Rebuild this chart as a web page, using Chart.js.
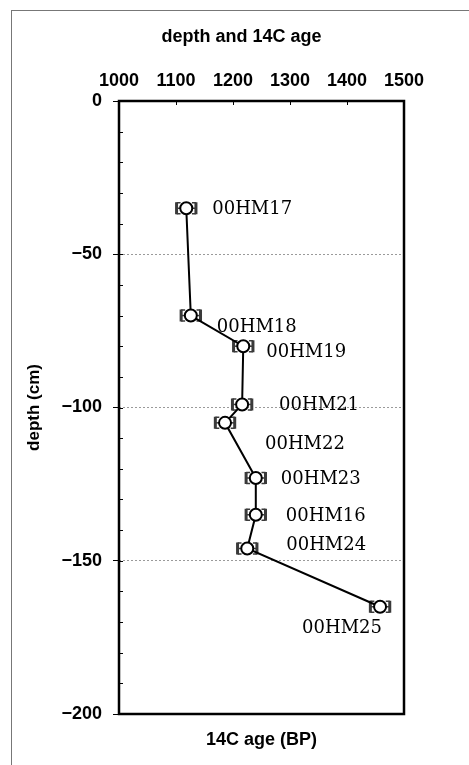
<!DOCTYPE html>
<html>
<head>
<meta charset="utf-8">
<script src="https://cdn.jsdelivr.net/npm/chart.js@4.4.1/dist/chart.umd.min.js"></script>
<style>
    html, body { margin: 0; padding: 0; background: #fff; }
    #wrap { width: 469px; height: 765px; }
</style>
</head>
<body>
<div id="wrap"><canvas id="depthChart" width="469" height="765"></canvas></div>
<script>
// samples, ordered by depth
const sampleNames = ["00HM17", "00HM18", "00HM19", "00HM21", "00HM22", "00HM23", "00HM16", "00HM24", "00HM25"];
const ages = [1118, 1126, 1218, 1216, 1186, 1240, 1240, 1225, 1458];   // 14C age (BP)
const depths = [-35, -70, -80, -99, -105, -123, -135, -146, -165];     // cm
const ageErrors = [17, 17, 17, 17, 17, 17, 17, 17, 17];

const ageTicks = [1000, 1100, 1200, 1300, 1400, 1500];
const depthTicks = [0, -50, -100, -150, -200];

// label placement next to each point (px)
const labelOffsets = [[26, 1], [26, 12], [23, 6], [37, 1], [40, 22], [25, 1], [30, 2], [39, -3], [-78, 22]];

const axisFont = { family: "Liberation Sans", size: 18, weight: "bold" };

const framePlugin = {
    id: "frame",
    beforeDraw(chart) {
        const ctx = chart.ctx;
        ctx.save();
        ctx.fillStyle = "#fff";
        ctx.fillRect(0, 0, chart.width, chart.height);
        ctx.strokeStyle = "#777";
        ctx.lineWidth = 1;
        ctx.strokeRect(11.5, 10.5, 600, 900);
        ctx.restore();
    },
    afterDraw(chart) {
        const { ctx, chartArea } = chart;
        const x = chart.scales.x;
        const y = chart.scales.y;
        ctx.save();
        ctx.strokeStyle = "#000";
        ctx.lineWidth = 1;
        // minor ticks, pointing into the plot
        ctx.beginPath();
        for (let d = 0; d >= -200; d -= 10) {
            const py = Math.round(y.getPixelForValue(d)) + 0.5;
            ctx.moveTo(chartArea.left, py);
            ctx.lineTo(chartArea.left + 4, py);
        }
        ageTicks.forEach(function (a) {
            const px = Math.round(x.getPixelForValue(a)) + 0.5;
            ctx.moveTo(px, chartArea.top);
            ctx.lineTo(px, chartArea.top + 4);
        });
        ctx.stroke();
        ctx.lineWidth = 2.5;
        ctx.strokeRect(chartArea.left, chartArea.top, chartArea.right - chartArea.left, chartArea.bottom - chartArea.top);
        ctx.restore();
    },
};

const errorBarPlugin = {
    id: "errorBars",
    beforeDatasetsDraw(chart) {
        const ctx = chart.ctx;
        const x = chart.scales.x;
        const y = chart.scales.y;
        ctx.save();
        ctx.strokeStyle = "#3a3a3a";
        ages.forEach(function (age, i) {
            const py = y.getPixelForValue(depths[i]);
            const xl = x.getPixelForValue(age - ageErrors[i]);
            const xr = x.getPixelForValue(age + ageErrors[i]);
            ctx.lineWidth = 1.5;
            ctx.beginPath();
            ctx.moveTo(xl, py);
            ctx.lineTo(xr, py);
            ctx.stroke();
            ctx.lineWidth = 3;
            ctx.beginPath();
            ctx.moveTo(xl, py - 6);
            ctx.lineTo(xl, py + 6);
            ctx.moveTo(xr, py - 6);
            ctx.lineTo(xr, py + 6);
            ctx.stroke();
            ctx.lineWidth = 1.5;
            ctx.beginPath();
            ctx.moveTo(xl, py - 5.5);
            ctx.lineTo(xl + 4, py - 5.5);
            ctx.moveTo(xl, py + 5.5);
            ctx.lineTo(xl + 4, py + 5.5);
            ctx.moveTo(xr, py - 5.5);
            ctx.lineTo(xr - 4, py - 5.5);
            ctx.moveTo(xr, py + 5.5);
            ctx.lineTo(xr - 4, py + 5.5);
            ctx.stroke();
        });
        ctx.restore();
    },
};

const sampleLabelPlugin = {
    id: "sampleLabels",
    afterDatasetsDraw(chart) {
        const ctx = chart.ctx;
        const meta = chart.getDatasetMeta(0);
        ctx.save();
        ctx.font = "18px 'DejaVu Serif'";
        ctx.fillStyle = "#000";
        ctx.textAlign = "left";
        ctx.textBaseline = "middle";
        meta.data.forEach(function (pt, i) {
            ctx.fillText(sampleNames[i], pt.x + labelOffsets[i][0], pt.y + labelOffsets[i][1]);
        });
        ctx.restore();
    },
};

const ctx = document.getElementById("depthChart").getContext("2d");

new Chart(ctx, {
    type: "scatter",
    data: {
        datasets: [
            {
                label: "14C age",
                data: ages.map(function (a, i) { return { x: a, y: depths[i] }; }),
                showLine: true,
                borderColor: "#000",
                borderWidth: 2,
                pointRadius: 6,
                pointBorderWidth: 2,
                pointBackgroundColor: "#fff",
                pointBorderColor: "#000",
                xAxisID: "x",
                yAxisID: "y",
            },
        ],
    },
    options: {
        responsive: false,
        animation: false,
        devicePixelRatio: 1,
        layout: {
            padding: { left: 14, right: 0, top: 0, bottom: 0 },
        },
        plugins: {
            legend: { display: false },
            tooltip: { enabled: false },
            title: {
                display: true,
                text: "depth and 14C age",
                color: "#000",
                font: { family: "Liberation Sans", size: 18, weight: "bold" },
                padding: { top: 26, bottom: 0 },
            },
        },
        scales: {
            x: {
                type: "linear",
                position: "top",
                min: 1000,
                max: 1500,
                afterBuildTicks: function (scale) {
                    scale.ticks = ageTicks.map(function (v) { return { value: v }; });
                },
                afterFit: function (scale) { scale.height = 53.4; },
                grid: { display: false, drawTicks: false },
                border: { display: false },
                ticks: {
                    color: "#000",
                    font: axisFont,
                    padding: 9,
                    maxRotation: 0,
                    callback: function (value) { return String(value); },
                },
            },
            x2: {
                type: "linear",
                position: "bottom",
                min: 1000,
                max: 1500,
                afterFit: function (scale) { scale.height = 51; },
                grid: { display: false, drawTicks: false },
                border: { display: false },
                ticks: { display: false },
                title: {
                    display: true,
                    text: "14C age (BP)",
                    color: "#000",
                    font: { family: "Liberation Sans", size: 18, weight: "bold" },
                    padding: { top: 0, bottom: 14 },
                },
            },
            y: {
                type: "linear",
                position: "left",
                min: -200,
                max: 0,
                afterBuildTicks: function (scale) {
                    scale.ticks = depthTicks.map(function (v) { return { value: v }; });
                },
                afterFit: function (scale) { scale.width = 105; },
                grid: {
                    color: "#9a9a9a",
                    lineWidth: 1,
                    tickColor: "#000",
                    tickBorderDash: [],
                    tickLength: 6,
                    tickWidth: 1,
                },
                border: { display: false, dash: [2, 2] },
                ticks: {
                    color: "#000",
                    font: axisFont,
                    padding: 11,
                    callback: function (value) {
                        return value < 0 ? "\u2212" + Math.abs(value) : String(value);
                    },
                },
                title: {
                    display: true,
                    text: "depth (cm)",
                    color: "#000",
                    font: { family: "Liberation Sans", size: 17, weight: "bold" },
                    padding: { top: 10, bottom: 0 },
                },
            },
            yr: {
                type: "linear",
                position: "right",
                min: -200,
                max: 0,
                afterFit: function (scale) { scale.width = 65; },
                grid: { display: false, drawTicks: false },
                border: { display: false },
                ticks: { display: false },
            },
        },
    },
    plugins: [framePlugin, errorBarPlugin, sampleLabelPlugin],
});
</script>
</body>
</html>
